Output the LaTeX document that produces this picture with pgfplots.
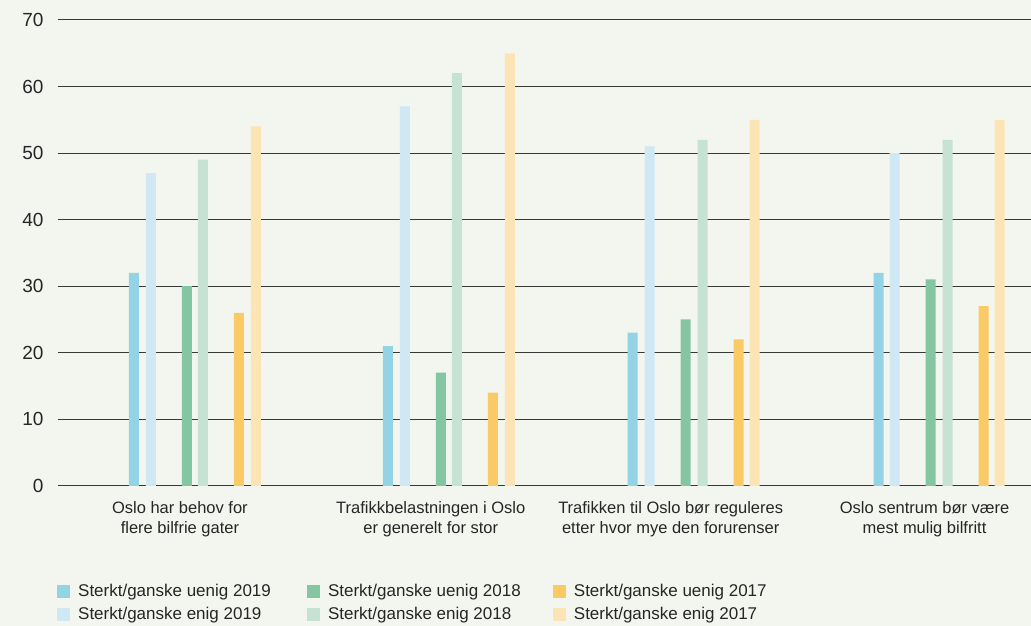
\documentclass[border=0pt]{standalone}
\usepackage{pgfplots}
\pgfplotsset{compat=1.18}
\usepackage{fontspec}
\setmainfont{Liberation Sans}
\definecolor{bg}{HTML}{F2F6EE}
\definecolor{cUa}{HTML}{94D3E6}
\definecolor{cEa}{HTML}{D0E8F4}
\definecolor{cUb}{HTML}{84C6A2}
\definecolor{cEb}{HTML}{C6E2D2}
\definecolor{cUc}{HTML}{FACA66}
\definecolor{cEc}{HTML}{FDE4B5}
\begin{document}
\begin{tikzpicture}
\fill[bg] (0,0) rectangle (1031pt,626pt);
\begin{axis}[
  at={(58pt,140pt)}, anchor=south west,
  scale only axis, width=973pt, height=466pt,
  xmin=58, xmax=1031, ymin=0, ymax=70,
  ybar, bar width=10pt,
  axis line style={draw=none},
  major tick length=0pt,
  ytick={10,20,...,70},
  extra y ticks={0},
  extra y tick style={grid style={draw=black, line width=1.4pt}},
  ymajorgrids,
  major grid style={draw=black!78, line width=1pt},
  xtick={180,431,671,925},
  xticklabels={{Oslo har behov for\\flere bilfrie gater},{Trafikkbelastningen i Oslo\\er generelt for stor},{Trafikken til Oslo bør reguleres\\etter hvor mye den forurenser},{Oslo sentrum bør være\\mest mulig bilfritt}},
  xticklabel style={align=center, font=\fontsize{16.5}{20.5}\selectfont, text=black!85, yshift=-12pt},
  yticklabel style={font=\fontsize{19}{20}\selectfont, text=black!85, xshift=-11pt},
  /pgf/number format/assume math mode=true,
  legend columns=3,
  legend cell align=left,
  legend style={at={(axis description cs:-0.001,-0.207)}, anchor=north west, draw=none, fill=none, inner sep=0pt,
    font=\fontsize{17}{20}\selectfont, text=black!85, row sep=5.5pt,
    /tikz/every even column/.append style={column sep=0pt}},
  legend image code/.code={\fill[#1, draw=none] (0pt,-6.5pt) rectangle (13pt,6.5pt);},
]
\addplot[fill=cUa, draw=none, bar shift=0pt] coordinates {(134,32) (388,21) (633,23) (879,32)};
\addplot[fill=cUb, draw=none, bar shift=0pt] coordinates {(187,30) (441,17) (686,25) (931,31)};
\addplot[fill=cUc, draw=none, bar shift=0pt] coordinates {(239,26) (493,14) (739,22) (984,27)};
\addplot[fill=cEa, draw=none, bar shift=0pt] coordinates {(151,47) (405,57) (650,51) (895,50)};
\addplot[fill=cEb, draw=none, bar shift=0pt] coordinates {(203,49) (457,62) (703,52) (948,52)};
\addplot[fill=cEc, draw=none, bar shift=0pt] coordinates {(256,54) (510,65) (755,55) (1000,55)};
\legend{\makebox[233pt][l]{\hspace{6pt}Sterkt/ganske uenig 2019},\makebox[229pt][l]{\hspace{6pt}Sterkt/ganske uenig 2018},\makebox[200pt][l]{\hspace{6pt}Sterkt/ganske uenig 2017},
\makebox[233pt][l]{\hspace{6pt}Sterkt/ganske enig 2019},\makebox[229pt][l]{\hspace{6pt}Sterkt/ganske enig 2018},\makebox[200pt][l]{\hspace{6pt}Sterkt/ganske enig 2017}}
\end{axis}
\end{tikzpicture}
\end{document}
